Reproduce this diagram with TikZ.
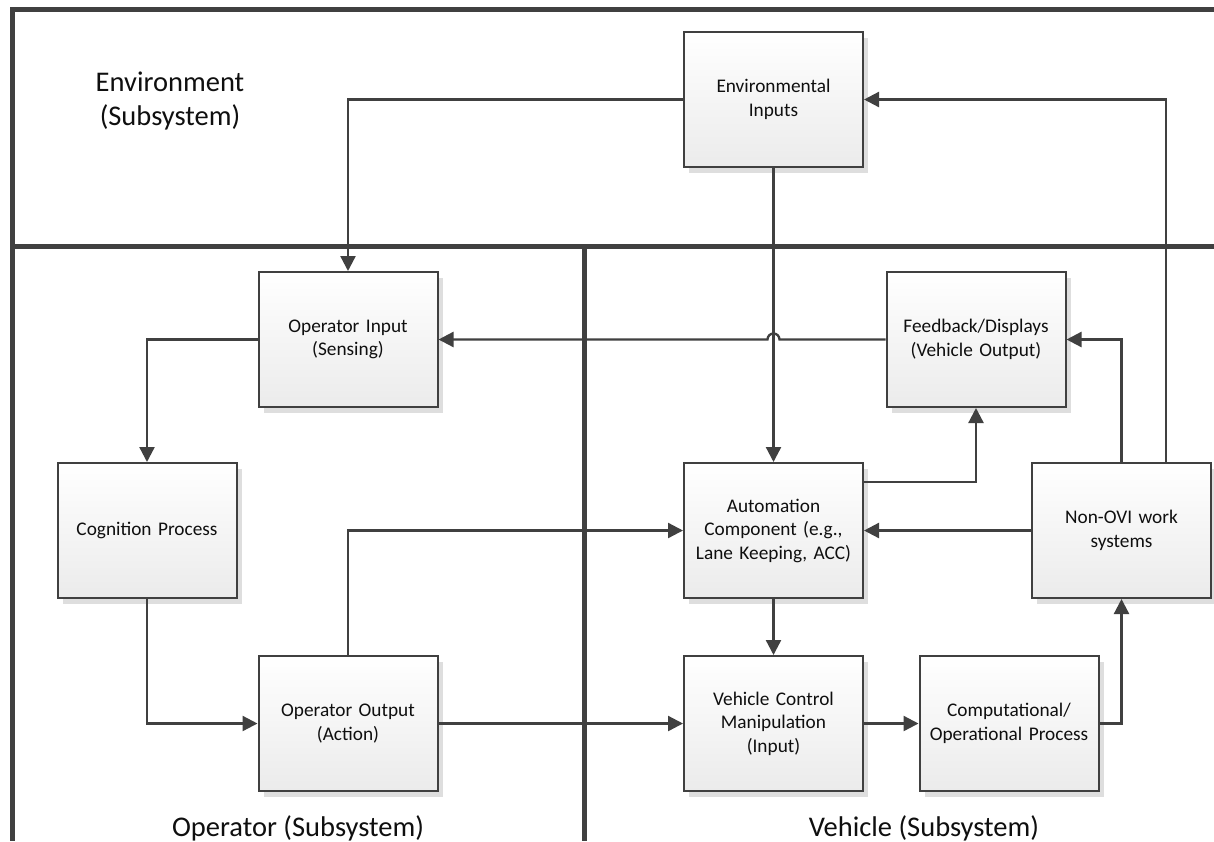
\documentclass[tikz,border=0pt]{standalone}
\usepackage{fontspec}
\setmainfont{Carlito}
\usetikzlibrary{arrows.meta,shadows,calc}
\definecolor{ink}{RGB}{64,64,64}
\definecolor{boxbottom}{RGB}{235,235,235}
\definecolor{shade}{RGB}{222,222,222}
\definecolor{txt}{RGB}{15,15,15}

\begin{document}
\begin{tikzpicture}[x=1pt,y=-1pt,
  block/.style={draw=ink, line width=2pt, top color=white, bottom color=boxbottom,
    minimum width=179pt, minimum height=135pt, inner sep=0pt, text width=172pt,
    align=center, font=\fontsize{19.3}{23.5}\selectfont, text=txt,
    drop shadow={shadow xshift=5pt, shadow yshift=-6pt, fill=shade, opacity=1}},
  conn/.style={draw=ink, line width=2.3pt, -{Triangle[length=15pt,width=15pt]}},
  frame/.style={draw=ink, line width=5pt},
  title/.style={font=\fontsize{28.5}{34}\selectfont, text=txt, align=center, inner sep=0pt}]

\useasboundingbox (0,0) rectangle (1214,841);
\fill[white] (0,0) rectangle (1214,841);

% subsystem frames
\draw[frame] (1214,9) -- (12,9) -- (12,841);
\draw[frame] (12,246) -- (1214,246);
\draw[frame] (584,246) -- (584,841);

% subsystem titles
\node[title] (envtitle) at (170,101) {Environment\\(Subsystem)};
\node[title, anchor=base] (optitle) at (298,836) {Operator (Subsystem)};
\node[title, anchor=base] (vehtitle) at (924,836) {Vehicle (Subsystem)};

% blocks
\node[block] (env)    at (773.5,99.5)  {Environmental\\Inputs};
\node[block] (opin)   at (348,339.5)   {Operator Input\\(Sensing)};
\node[block] (fb)     at (976,339.5)   {Feedback/Displays\\(Vehicle Output)};
\node[block] (cog)    at (147,530.5)   {Cognition Process};
\node[block] (auto)   at (773.5,530.5) {Automation\\Component (e.g.,\\Lane Keeping, ACC)};
\node[block] (nonovi) at (1121.5,530.5){Non-OVI work\\systems};
\node[block] (opout)  at (348,723.5)   {Operator Output\\(Action)};
\node[block] (vcm)    at (773.5,723.5) {Vehicle Control\\Manipulation\\(Input)};
\node[block] (comp)   at (1009,723.5)  {Computational/\\Operational Process};

% connectors
\draw[conn] (env.west) -| (opin.north);
\draw[conn] (env.south) -- (auto.north);
\draw[conn] (fb.west) -- ($(fb.west -| env.south)+(6,0)$)
  arc[start angle=0, end angle=-180, radius=6] -- (opin.east);
\draw[conn] (opin.west) -| (cog.north);
\draw[conn] (cog.south) |- (opout.west);
\draw[conn] (opout.north) |- (auto.west);
\draw[conn] (opout.east) -- (vcm.west);
\draw[conn] (auto.south) -- (vcm.north);
\draw[conn] (vcm.east) -- (comp.west);
\draw[conn] (comp.east) -| (nonovi.south);
\draw[conn] (nonovi.west) -- (auto.east);
\draw[conn] ($(auto.north east)+(0,20)$) -| (fb.south);
\draw[conn] (nonovi.north) |- (fb.east);
\draw[conn] ($(nonovi.north)+(44.5,0)$) |- (env.east);
\end{tikzpicture}
\end{document}
